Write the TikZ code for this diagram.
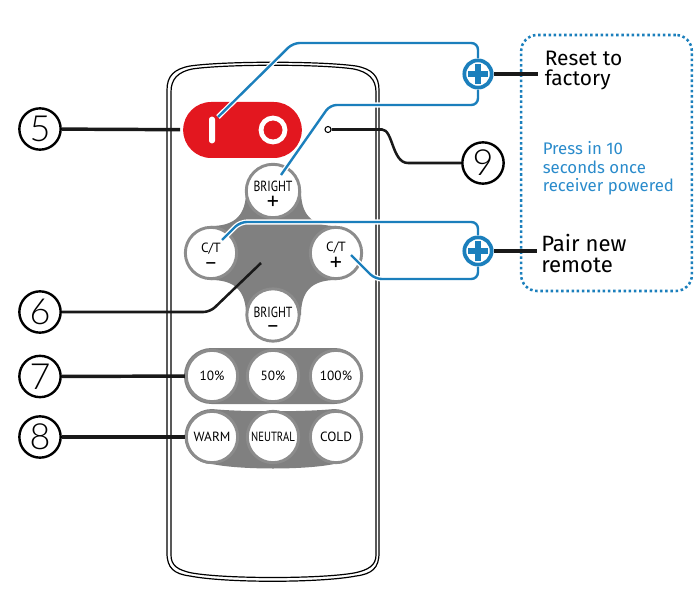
\documentclass[tikz,border=0pt]{standalone}
\usepackage{fontspec}
\setsansfont{PT Sans}
\newfontfamily\numfont{Lato Light}
\newfontfamily\dinfont{Fira Sans}
\usetikzlibrary{calc,positioning,shapes.misc}
\definecolor{linkblue}{HTML}{1B7FBC}
\definecolor{textblue}{HTML}{2A8BCB}
\definecolor{switchred}{HTML}{E3171F}
\definecolor{padgray}{HTML}{808080}
\definecolor{ringgray}{HTML}{8C8C8C}
\newcommand{\narrowtxt}[1]{\scalebox{.8}[1]{#1}}
\newcommand{\bigplus}{{\fontsize{18}{12}\selectfont +}}
\newcommand{\bigminus}{{\fontsize{16}{8}\selectfont --}}
\begin{document}
\begin{tikzpicture}[x=0.75pt,y=-0.75pt,
    main node/.style={circle,fill=white,draw=black,line width=1.8pt,minimum size=31pt,inner sep=0pt,font=\numfont\fontsize{27}{27}\selectfont},
    button/.style={circle,fill=white,draw=ringgray,line width=2.2pt,minimum size=38.5pt,inner sep=0pt,align=center,font=\sffamily\fontsize{10}{10.5}\selectfont},
    plus node/.style={circle,fill=white,draw=linkblue,line width=2.8pt,minimum size=20.5pt,inner sep=0pt},
    link/.style={draw=linkblue,line width=1.8pt,rounded corners=5pt,preaction={draw=white,line width=3.8pt}},
    lead/.style={draw=black!90,line width=#1},
    side label/.style={anchor=west,align=left,inner sep=0pt,font=\dinfont\fontsize{#1}{15.4}\selectfont}]
\useasboundingbox (0,0) rectangle (696,606);

% remote body
\draw[line width=0.9pt] (167,90) .. controls (167,76) and (174,69) .. (190,66) .. controls (225,61) and (320,61) .. (356,66) .. controls (372,69) and (379,76) .. (379,90) -- (379,553) .. controls (379,568) and (372,574) .. (356,576) .. controls (320,583) and (225,583) .. (190,576) .. controls (174,574) and (167,568) .. (167,553) -- cycle;
\draw[line width=0.9pt] (171,92) .. controls (171,79) and (178,72) .. (192,69) .. controls (226,64) and (320,64) .. (354,69) .. controls (368,72) and (376,79) .. (376,92) -- (376,555) .. controls (376,565) and (369,570) .. (354,573) .. controls (320,579) and (226,579) .. (192,573) .. controls (177,570) and (171,565) .. (171,555) -- cycle;

% gray pads
\fill[padgray] (246,191) .. controls (246,214) and (236,226) .. (211,226) -- (211,280) .. controls (236,280) and (246,292) .. (246,315) -- (301,315) .. controls (301,292) and (311,280) .. (336,280) -- (336,226) .. controls (311,226) and (301,214) .. (301,191) -- cycle;
\fill[padgray,rounded corners=20.5pt] (184,348) rectangle (362,404);
\fill[padgray] (212,409) .. controls (240,412) and (306,412) .. (334,409) arc (-90:90:27.5) .. controls (306,470) and (240,470) .. (212,464) arc (90:270:27.5) -- cycle;

% switch
\node[rounded rectangle,fill=switchred,minimum width=89pt,minimum height=42pt,inner sep=0pt] (Switch) at (242.5,130) {};
\node[rectangle,rounded corners=2pt,fill=white,minimum width=4.5pt,minimum height=20pt,inner sep=0pt] (SwitchBar) at (212,130) {};
\node[circle,draw=white,line width=3.6pt,minimum size=18pt,inner sep=0pt] (SwitchRing) at (273,130) {};
\node[circle,draw=black,line width=0.8pt,minimum size=4.5pt,inner sep=0pt] (Dot) at (328,129.5) {};

% buttons
\foreach \name/\x/\y/\lab in {BrightUp/273/191/{\rule{0pt}{14pt}\narrowtxt{\fontsize{11}{11}\selectfont BRIGHT}\\[3pt]\bigplus},
    BrightDown/273/315/{\rule{0pt}{15pt}\narrowtxt{\fontsize{11}{11}\selectfont BRIGHT}\\[1pt]\bigminus},
    ColorDown/211/253/{\rule{0pt}{12pt}C/T\\[2.5pt]\bigminus},
    ColorUp/336/253/{\rule{0pt}{12pt}C/T\\[2.5pt]\bigplus},
    Ten/212/376/{10\%},Fifty/273/376/{50\%},Hundred/336/376/{100\%},
    Warm/212/437/{WARM},Neutral/273/437/{\narrowtxt{NEUTRAL}},Cold/336/437/{COLD}}
   {\node[button] (\name) at (\x,\y) {\lab};}

% numbers
\foreach \n/\x/\y in {5/40/129,6/40/312,7/40/376.5,8/40/437,9/483/163}
   {\node[main node] (Num\n) at (\x,\y) {\n};}

\coordinate (PadSpot) at (261,263);
\coordinate (SwitchTip) at (218,117);
\coordinate (BrightTip) at (281,175);
\coordinate (ColorDownTip) at (222,240);
\coordinate (ColorUpTip) at (351,255);

% plus markers and their labels
\node[plus node] (ResetPlus) at (478,74) {};
\node[plus node] (PairPlus) at (478,251) {};
\node[side label=15.7] (ResetLabel) at (544.5,70.5) {Reset to\\factory};
\node[side label=16.6] (PairLabel) at (541,253.5) {Pair new\\remote};
\node[anchor=west,align=left,inner sep=0pt,text=textblue,font=\dinfont\fontsize{12.6}{13.9}\selectfont] (PressLabel) at (542.5,168.5) {Press in 10\\seconds once\\receiver powered};

% dotted frame
\node[draw=linkblue,line width=1.9pt,dotted,rounded corners=12pt,minimum width=128pt,minimum height=192pt,inner sep=0pt] (Frame) at (606.5,163) {};

% blue links
\draw[link] (SwitchTip) -- (293,43) -| (ResetPlus);
\draw[link] (BrightTip) -- (330,105) -| (ResetPlus);
\draw[link] (ColorDownTip) -- (240,222) -| (PairPlus);
\draw[link] (ColorUpTip) -- (375,279) -| (PairPlus);
\foreach \p in {ResetPlus,PairPlus}
   {\draw[linkblue,line width=4.2pt] ($(\p)+(-10,0)$) -- ($(\p)+(10,0)$);
    \draw[linkblue,line width=4.2pt] ($(\p)+(0,-10)$) -- ($(\p)+(0,10)$);}

% black leads
\draw[lead=2.6pt,shorten >=2pt] (Num5) -- (Switch);
\draw[lead=1.9pt,rounded corners=5pt] (Num6) -- (210,312) -- (PadSpot);
\draw[lead=2.6pt] (Num7) -- (Ten);
\draw[lead=3.2pt] (Num8) -- (Warm);
\draw[lead=1.9pt] (Dot) -- (382,129.5) .. controls (393,129.5) and (392,163) .. (408,163) -- (Num9);
\coordinate (ResetEnd) at (538,74);
\coordinate (PairEnd) at (537,251);
\draw[lead=3.2pt] (ResetPlus) -- (ResetEnd);
\draw[lead=3.2pt] (PairPlus) -- (PairEnd);
\end{tikzpicture}
\end{document}
